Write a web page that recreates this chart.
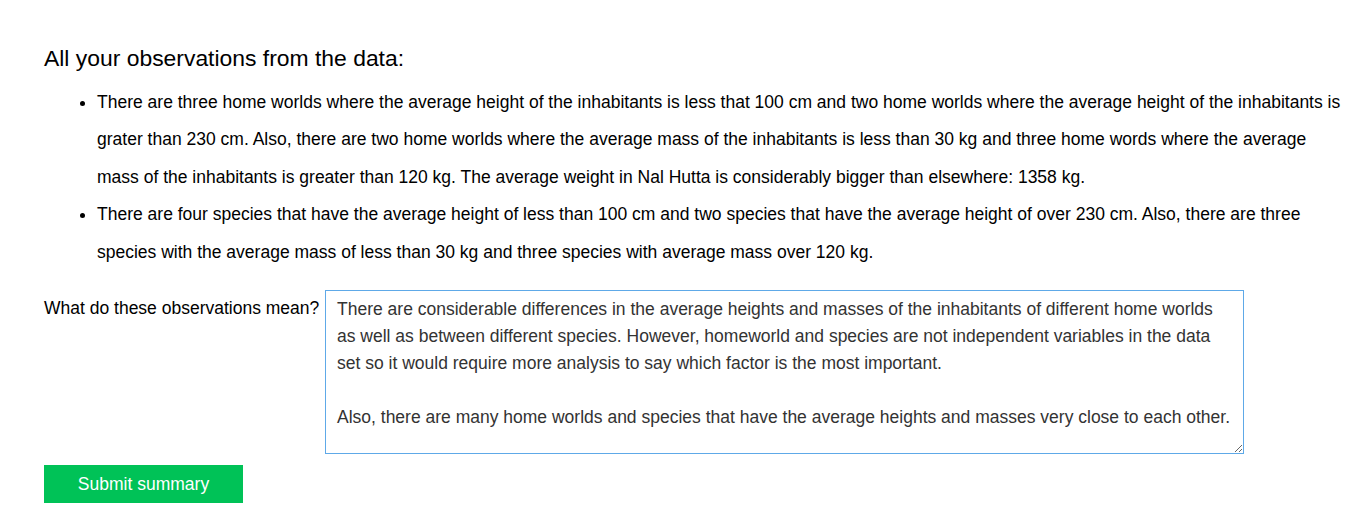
<!DOCTYPE html>
<html>
<head>
<meta charset="utf-8">
<script src="https://cdn.jsdelivr.net/npm/chart.js@4/dist/chart.umd.min.js"></script>
<style>
  html, body { margin: 0; padding: 0; background: #fff; }
  body { width: 1365px; height: 520px; overflow: hidden; font-family: "Liberation Sans", Arial, sans-serif; color: #000; position: relative; }
  #title { position: absolute; left: 44px; top: 45px; font-size: 22.9px; line-height: 26px; }
  #obs { position: absolute; left: 44px; top: 84px; margin: 0; padding: 0 0 0 53px; font-size: 17.5px; line-height: 37.4px; }
  #obs li { white-space: nowrap; }
  #ask { position: absolute; left: 44px; top: 296px; font-size: 17.5px; line-height: 24px; }
  #answer { position: absolute; left: 325px; top: 290px; width: 919px; height: 164px; box-sizing: border-box;
    border: 1px solid #5ea9e8; padding: 5px 11px; margin: 0; font-family: "Liberation Sans", Arial, sans-serif;
    font-size: 17.5px; line-height: 27px; color: #333; white-space: pre; overflow: hidden; outline: none; }
  #submit { position: absolute; left: 44px; top: 465px; width: 199px; height: 38px; border: none; background: #00c257;
    color: #fff; font-family: "Liberation Sans", Arial, sans-serif; font-size: 17.5px; padding: 0; }
</style>
</head>
<body>
<div id="title"></div>
<ul id="obs"></ul>
<div id="ask"></div>
<textarea id="answer" spellcheck="false"></textarea>
<button id="submit"></button>
<script>
// textos de la página (no hay gráfica en esta vista, solo el resumen)
const titleText = 'All your observations from the data:'
const obsHomeworld = [
  'There are three home worlds where the average height of the inhabitants is less that 100 cm and two home worlds where the average height of the inhabitants is',
  'grater than 230 cm. Also, there are two home worlds where the average mass of the inhabitants is less than 30 kg and three home words where the average',
  'mass of the inhabitants is greater than 120 kg. The average weight in Nal Hutta is considerably bigger than elsewhere: 1358 kg.'
]
const obsSpecies = [
  'There are four species that have the average height of less than 100 cm and two species that have the average height of over 230 cm. Also, there are three',
  'species with the average mass of less than 30 kg and three species with average mass over 120 kg.'
]
const askText = 'What do these observations mean?'
const answerLines = [
  'There are considerable differences in the average heights and masses of the inhabitants of different home worlds',
  'as well as between different species. However, homeworld and species are not independent variables in the data',
  'set so it would require more analysis to say which factor is the most important.',
  '',
  'Also, there are many home worlds and species that have the average heights and masses very close to each other.'
]
const buttonText = 'Submit summary'

const $q = (s)=>document.querySelector(s)
const esc = t => t.replace(/&/g,'&amp;').replace(/</g,'&lt;')

$q('#title').textContent = titleText
$q('#obs').innerHTML = [obsHomeworld, obsSpecies]
  .map(lines => `<li>${lines.map(esc).join('<br>')}</li>`).join('')
$q('#ask').textContent = askText
$q('#answer').value = answerLines.join('\n')
$q('#submit').textContent = buttonText
</script>
</body>
</html>
